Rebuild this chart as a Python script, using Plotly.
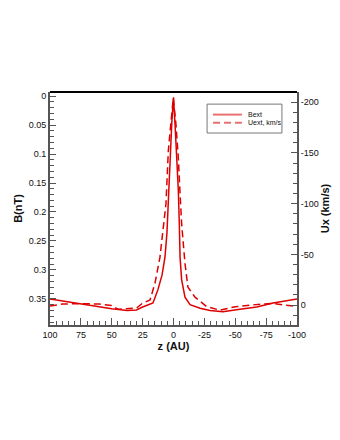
import plotly.graph_objects as go

# Solid: Bext (left axis, nT)
z_b = [100, 75, 50, 37.5, 30, 25, 16.6, 12.6, 9.3, 6.9, 5.3, 4.5, 3.6, 2.6, 1.4, 0.3, 0,
       -1.2, -2.6, -3.9, -4.7, -5.3, -6.6, -9.3, -13.4, -21.5, -29.6, -40, -53.8, -67.4, -80.6, -94.3, -100]
b_vals = [0.350, 0.359, 0.367, 0.370, 0.369, 0.364, 0.357, 0.334, 0.309, 0.278, 0.236, 0.197, 0.162,
          0.105, 0.047, 0.004, 0.002,
          0.047, 0.105, 0.162, 0.219, 0.278, 0.317, 0.347, 0.360, 0.366, 0.370, 0.372, 0.368, 0.364,
          0.357, 0.352, 0.350]

# Dashed: Uext (right axis, km/s)
z_u = [100, 90, 75, 60, 50, 45, 30, 25, 19, 15, 11, 8.5, 6.1, 4.2, 2.3, 1.0, 0.2,
       -2, -3.9, -5.3, -6.6, -9.3, -11.7, -17.4, -27, -37.6, -50, -62, -80, -95, -100]
u_vals = [1, -1, -1.5, -1, 0.5, 4, 3, -2, -5, -21.6, -47, -73.5, -100, -152, -178, -198, -204,
          -178, -145, -110, -80, -41, -17.6, -7.8, 1.6, 5, 1.6, 0, -1.6, 0.7, 1]

b_ticks = [0, 0.05, 0.1, 0.15, 0.2, 0.25, 0.3, 0.35]
b_ticklabels = ["0", "0.05", "0.1", "0.15", "0.2", "0.25", "0.3", "0.35"]
u_ticks = [-200, -150, -100, -50, 0]
z_ticks = [100, 75, 50, 25, 0, -25, -50, -75, -100]
legend_names = ["Bext", "Uext, km/s"]

RED = "#dd0000"
AXC = "#555555"
DASH = "7px,4px"

fig = go.Figure()
fig.add_trace(go.Scatter(x=z_b, y=b_vals, mode="lines", name=legend_names[0],
                         line=dict(color=RED, width=1.5), yaxis="y", showlegend=False))
fig.add_trace(go.Scatter(x=z_u, y=u_vals, mode="lines", name=legend_names[1],
                         line=dict(color=RED, width=1.5, dash=DASH), yaxis="y2", showlegend=False))

tickfont = dict(family="Liberation Sans, Arial", size=9, color="#111111")
titlefont = dict(family="Liberation Sans, Arial", size=11, color="#111111", weight="bold")
legfont = dict(family="Liberation Sans, Arial", size=7, color="#111111")

# legend box drawn in paper coordinates
lx0, lx1, ly0, ly1 = 0.636, 0.939, 0.824, 0.948
sx0, sx1, tx = 0.660, 0.777, 0.795
row_y = [0.903, 0.868]
shapes = [
    dict(type="line", xref="paper", yref="paper", x0=0, x1=1, y0=1, y1=1,
         line=dict(color="black", width=2)),
    dict(type="rect", xref="paper", yref="paper", x0=lx0, x1=lx1, y0=ly0, y1=ly1,
         line=dict(color="#777777", width=1), fillcolor="white"),
    dict(type="line", xref="paper", yref="paper", x0=sx0, x1=sx1, y0=row_y[0], y1=row_y[0],
         line=dict(color="#e87070", width=2)),
    dict(type="line", xref="paper", yref="paper", x0=sx0, x1=sx1, y0=row_y[1], y1=row_y[1],
         line=dict(color="#e87070", width=2, dash=DASH)),
]
annotations = [
    dict(xref="paper", yref="paper", x=tx, y=row_y[i], text=legend_names[i], showarrow=False,
         xanchor="left", yanchor="middle", font=legfont)
    for i in range(2)
]

fig.update_layout(
    width=340, height=440,
    margin=dict(l=42, r=51, t=84, b=123),
    paper_bgcolor="white", plot_bgcolor="white",
    showlegend=False,
    xaxis=dict(range=[100, -100], tickvals=z_ticks, ticktext=[str(v) for v in z_ticks],
               ticks="inside", ticklen=7, tickwidth=1, tickcolor=AXC,
               minor=dict(dtick=5, ticks="inside", ticklen=4, tickcolor=AXC, tick0=0),
               showgrid=False, zeroline=False, showline=True, linecolor=AXC, linewidth=2,
               mirror=False, tickfont=tickfont, automargin=False,
               title=dict(text="z (AU)", font=titlefont, standoff=2)),
    yaxis=dict(range=[0.395, -0.007], tickvals=b_ticks, ticktext=b_ticklabels,
               ticks="inside", ticklen=6, tickwidth=1, tickcolor=AXC,
               minor=dict(dtick=0.01, ticks="inside", ticklen=4, tickcolor=AXC, tick0=0),
               showgrid=False, zeroline=False, showline=True, linecolor=AXC, linewidth=2,
               tickfont=tickfont, automargin=False,
               title=dict(text="B(nT)", font=titlefont, standoff=4)),
    yaxis2=dict(range=[19.6, -210], overlaying="y", side="right", tickvals=u_ticks,
                ticktext=[str(v) for v in u_ticks],
                ticks="inside", ticklen=6, tickwidth=1, tickcolor=AXC,
                minor=dict(dtick=10, ticks="inside", ticklen=4, tickcolor=AXC, tick0=0),
                showgrid=False, zeroline=False, showline=True, linecolor=AXC, linewidth=2,
                tickfont=tickfont, automargin=False,
                title=dict(text="Ux (km/s)", font=titlefont, standoff=2)),
    shapes=shapes,
    annotations=annotations,
)

fig.write_html("out.html")
